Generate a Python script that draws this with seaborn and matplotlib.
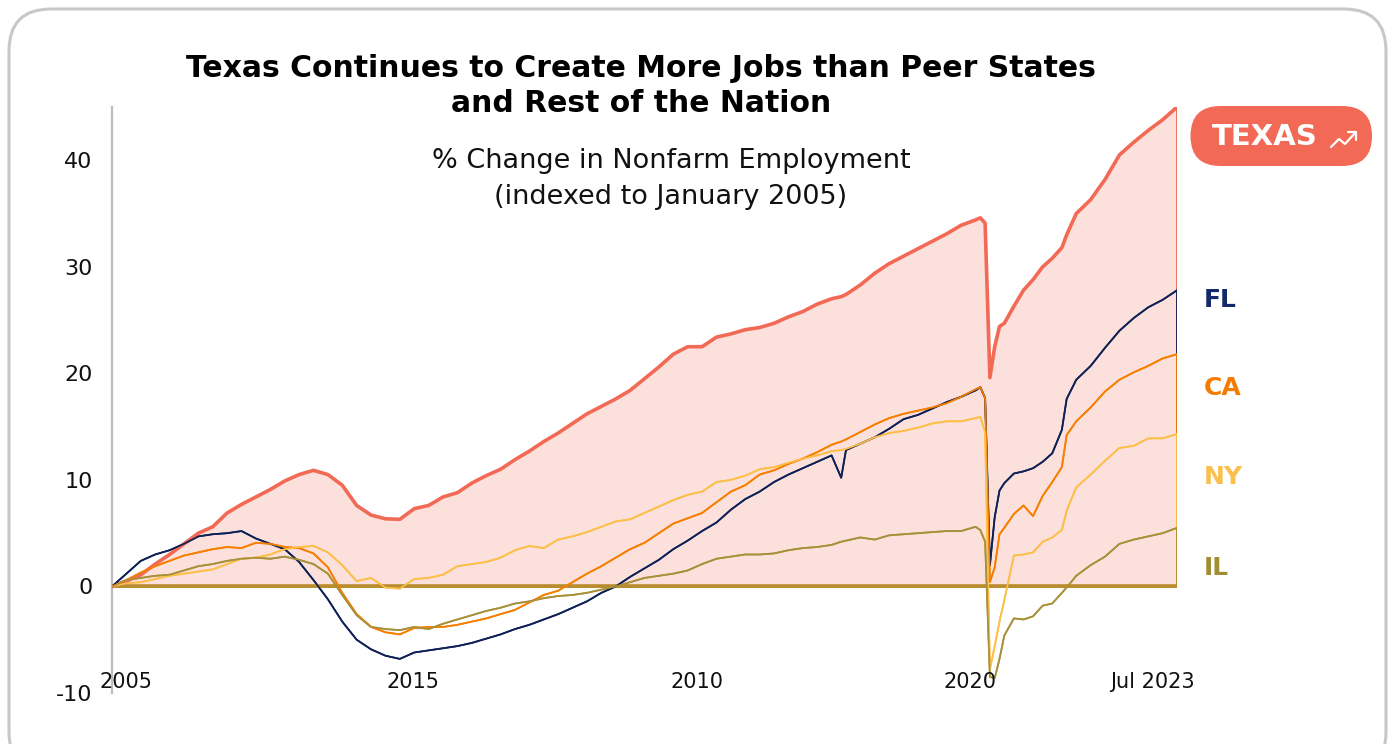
import matplotlib
matplotlib.use("Agg")
import matplotlib.pyplot as plt
from matplotlib.patches import FancyBboxPatch
from matplotlib.lines import Line2D
import seaborn as sns
import pandas as pd
import numpy as np

# ---------------- data ----------------
dates = [
    "2005-01", "2005-04", "2005-07", "2005-10", "2006-01", "2006-04", "2006-07", "2006-10",
    "2007-01", "2007-04", "2007-07", "2007-10", "2008-01", "2008-04", "2008-07", "2008-10",
    "2009-01", "2009-04", "2009-07", "2009-10", "2010-01", "2010-04", "2010-07", "2010-10",
    "2011-01", "2011-04", "2011-07", "2011-10", "2012-01", "2012-04", "2012-07", "2012-10",
    "2013-01", "2013-04", "2013-07", "2013-10", "2014-01", "2014-04", "2014-07", "2014-10",
    "2015-01", "2015-04", "2015-07", "2015-10", "2016-01", "2016-04", "2016-07", "2016-10",
    "2017-01", "2017-04", "2017-07", "2017-09", "2017-10", "2018-01", "2018-04", "2018-07",
    "2018-10", "2019-01", "2019-04", "2019-07", "2019-10", "2020-01", "2020-02", "2020-03",
    "2020-04", "2020-05", "2020-06", "2020-07", "2020-09", "2020-11", "2021-01", "2021-03",
    "2021-05", "2021-07", "2021-08", "2021-10", "2022-01", "2022-04", "2022-07", "2022-10",
    "2023-01", "2023-04", "2023-07",
]

texas = [0, 0.5, 1.1, 2.1, 3.0, 4.0, 5.0, 5.6, 6.9, 7.7, 8.4, 9.1, 9.9, 10.5, 10.9, 10.5,
         9.5, 7.6, 6.7, 6.35, 6.3, 7.3, 7.6, 8.4, 8.8, 9.7, 10.4, 11.0, 11.9, 12.7, 13.6, 14.4,
         15.3, 16.2, 16.9, 17.6, 18.4, 19.5, 20.6, 21.8, 22.5, 22.5, 23.4, 23.7, 24.1, 24.3, 24.7, 25.3,
         25.8, 26.5, 27.0, 27.2, 27.4, 28.3, 29.4, 30.3, 31.0, 31.7, 32.4, 33.1, 33.9, 34.4, 34.6, 34.1,
         19.6, 22.5, 24.4, 24.7, 26.3, 27.8, 28.8, 30.0, 30.8, 31.8, 33.0, 35.0, 36.3, 38.2, 40.5, 41.7,
         42.8, 43.8, 45.0]

florida = [0, 1.2, 2.4, 3.0, 3.4, 4.0, 4.7, 4.9, 5.0, 5.2, 4.5, 4.0, 3.5, 2.3, 0.6, -1.2,
           -3.3, -5.0, -5.9, -6.5, -6.8, -6.2, -6.0, -5.8, -5.6, -5.3, -4.9, -4.5, -4.0, -3.6, -3.1, -2.6,
           -2.0, -1.4, -0.6, 0.0, 0.9, 1.7, 2.5, 3.5, 4.3, 5.2, 6.0, 7.2, 8.2, 8.9, 9.8, 10.5,
           11.1, 11.7, 12.3, 10.2, 12.8, 13.4, 14.0, 14.8, 15.7, 16.1, 16.7, 17.3, 17.8, 18.4, 18.7, 17.7,
           2.0, 6.5, 9.0, 9.7, 10.6, 10.8, 11.1, 11.7, 12.5, 14.7, 17.6, 19.4, 20.7, 22.4, 24.0, 25.2,
           26.2, 26.9, 27.8]

california = [0, 0.6, 1.3, 1.9, 2.4, 2.9, 3.2, 3.5, 3.7, 3.6, 4.1, 4.0, 3.7, 3.6, 3.1, 1.8,
              -0.6, -2.6, -3.8, -4.3, -4.5, -3.9, -3.8, -3.8, -3.6, -3.3, -3.0, -2.6, -2.2, -1.5, -0.8, -0.4,
              0.4, 1.2, 1.9, 2.7, 3.5, 4.1, 5.0, 5.9, 6.4, 6.9, 7.9, 8.9, 9.5, 10.5, 10.9, 11.5,
              12.0, 12.6, 13.3, 13.6, 13.8, 14.5, 15.2, 15.8, 16.2, 16.5, 16.8, 17.2, 17.8, 18.5, 18.7, 17.7,
              0.4, 1.8, 4.9, 5.5, 6.8, 7.6, 6.6, 8.5, 9.8, 11.2, 14.2, 15.5, 16.8, 18.3, 19.4, 20.1,
              20.7, 21.4, 21.8]

new_york = [0, 0.3, 0.4, 0.7, 1.0, 1.2, 1.4, 1.6, 2.1, 2.6, 2.7, 3.0, 3.5, 3.7, 3.8, 3.2,
            2.0, 0.5, 0.8, -0.1, -0.2, 0.7, 0.8, 1.1, 1.9, 2.1, 2.3, 2.7, 3.4, 3.8, 3.6, 4.4,
            4.7, 5.1, 5.6, 6.1, 6.3, 6.9, 7.5, 8.1, 8.6, 8.9, 9.8, 10.0, 10.4, 11.0, 11.2, 11.6,
            12.0, 12.3, 12.7, 12.8, 12.9, 13.4, 14.0, 14.4, 14.6, 14.9, 15.3, 15.5, 15.5, 15.8, 15.9, 14.5,
            -7.8, -5.6, -3.3, -1.3, 2.9, 3.0, 3.2, 4.2, 4.6, 5.3, 7.1, 9.3, 10.5, 11.8, 13.0, 13.2,
            13.9, 13.9, 14.3]

illinois = [0, 0.6, 0.8, 1.0, 1.1, 1.5, 1.9, 2.1, 2.4, 2.6, 2.7, 2.6, 2.8, 2.5, 2.1, 1.2,
            -0.8, -2.7, -3.8, -4.0, -4.1, -3.8, -4.0, -3.5, -3.1, -2.7, -2.3, -2.0, -1.6, -1.4, -1.1, -0.9,
            -0.8, -0.6, -0.3, 0.0, 0.4, 0.8, 1.0, 1.2, 1.5, 2.1, 2.6, 2.8, 3.0, 3.0, 3.1, 3.4,
            3.6, 3.7, 3.9, 4.2, 4.3, 4.6, 4.4, 4.8, 4.9, 5.0, 5.1, 5.2, 5.2, 5.6, 5.3, 4.2,
            -8.5, -8.6, -6.8, -4.6, -3.0, -3.1, -2.8, -1.8, -1.6, -0.6, -0.1, 1.0, 2.0, 2.8, 4.0, 4.4,
            4.7, 5.0, 5.5]

state_names = ["TEXAS", "FL", "CA", "NY", "IL"]
x_tick_labels = ["2005", "2015", "2010", "2020", "Jul 2023"]
y_ticks = [-10, 0, 10, 20, 30, 40]

title_text = "Texas Continues to Create More Jobs than Peer States\nand Rest of the Nation"
subtitle_text = "% Change in Nonfarm Employment\n(indexed to January 2005)"

# ---------------- styling ----------------
colors = {"TEXAS": "#f26a55", "FL": "#0e2157", "CA": "#f77f00", "NY": "#fdbf4a", "IL": "#a8913a"}
label_colors = {"FL": "#13296b", "CA": "#f57c00", "NY": "#fbbf4c", "IL": "#a18e33"}
widths = {"TEXAS": 2.6, "FL": 1.2, "CA": 1.2, "NY": 1.2, "IL": 1.2}
texas_fill = "#fce0dc"
base_color = "#b98d2d"
font = "DejaVu Sans"

series = {"TEXAS": texas, "FL": florida, "CA": california, "NY": new_york, "IL": illinois}
for k, v in series.items():
    assert len(v) == len(dates), (k, len(v))

dt = pd.to_datetime(dates)
months = (dt.year - 2005) * 12 + (dt.month - 1)
df = pd.concat([pd.DataFrame({"month": months, "value": series[s], "state": s}) for s in state_names],
               ignore_index=True)

sns.set_theme(style="white")
plt.rcParams["font.family"] = [font]

W, H = 1390, 744
fig = plt.figure(figsize=(W / 100, H / 100), dpi=100)
fig.patch.set_facecolor("white")

# card border
card = FancyBboxPatch((0.09, -0.3), 13.77, 7.65, boxstyle="round,pad=0,rounding_size=0.42",
                      transform=fig.dpi_scale_trans, facecolor="none", edgecolor="#c8c8c8",
                      linewidth=2.2, zorder=-1)
fig.patches.append(card)

ax = fig.add_axes([112 / W, 1 - 693 / H, (1177 - 112) / W, (693 - 107) / H])
ax.set_facecolor("none")

tx = df[df.state == "TEXAS"]
ax.fill_between(tx["month"], tx["value"], 0, facecolor=texas_fill, edgecolor="none", zorder=1)

# area outlines (vertical end edges + baseline)
for s in state_names:
    d = df[df.state == s]
    ax.fill_between(d["month"], d["value"], 0, facecolor="none", edgecolor=colors[s],
                    linewidth=1.3, zorder=2)

ax.axhline(0, color=base_color, linewidth=2.6, zorder=3)

for s in state_names:
    d = df[df.state == s]
    sns.lineplot(data=d, x="month", y="value", color=colors[s], linewidth=widths[s],
                 ax=ax, zorder=5 if s == "TEXAS" else 6, legend=False)

ax.set_xlim(0, 222)
ax.set_ylim(-10, 45)
ax.set_xlabel("")
ax.set_ylabel("")

ax.set_yticks(y_ticks)
ax.set_yticklabels([str(t) for t in y_ticks], fontsize=16, color="#111111")
ax.tick_params(axis="y", length=0, pad=14)
ax.set_xticks([])

for sp in ["top", "right", "bottom"]:
    ax.spines[sp].set_visible(False)
ax.spines["left"].set_color("#bdbdbd")
ax.spines["left"].set_linewidth(1.6)

# x labels (positions as in reference)
xlab_pos = [3, 62.7, 122, 178.9, 216.8]
for lab, p in zip(x_tick_labels, xlab_pos):
    ax.text(p, 0.019, lab, transform=ax.get_xaxis_transform(), ha="center", va="center",
            fontsize=15, color="#111111", zorder=10)

# titles
fig.text(641 / W, 1 - 86 / H, title_text, ha="center", va="center", fontsize=21.5,
         fontweight="bold", color="black", linespacing=1.3)
fig.text(671 / W, 1 - 179 / H, subtitle_text, ha="center", va="center", fontsize=19.5,
         color="#111111", linespacing=1.45)

# right labels
label_y = {"FL": 300, "CA": 388, "NY": 477, "IL": 568}
for s in ["FL", "CA", "NY", "IL"]:
    fig.text(1204 / W, 1 - label_y[s] / H, s, ha="left", va="center", fontsize=18,
             fontweight="bold", color=label_colors[s])

# TEXAS badge
pill = FancyBboxPatch((11.905, (H - 166) / 100), 1.815, 0.60, boxstyle="round,pad=0,rounding_size=0.30",
                      transform=fig.dpi_scale_trans, facecolor="#f26a55", edgecolor="none", zorder=5)
fig.patches.append(pill)
fig.text(1265 / W, 1 - 137 / H, "TEXAS", ha="center", va="center", fontsize=21,
         fontweight="bold", color="white", zorder=6)
icon = [(1331, 147), (1339, 139), (1345, 144), (1355, 133)]
fig.lines.append(Line2D([p[0] / 100 for p in icon], [(H - p[1]) / 100 for p in icon],
                        transform=fig.dpi_scale_trans, color="white", linewidth=1.6, zorder=7))
head = [(1348, 132), (1356, 132), (1356, 140)]
fig.lines.append(Line2D([p[0] / 100 for p in head], [(H - p[1]) / 100 for p in head],
                        transform=fig.dpi_scale_trans, color="white", linewidth=1.6, zorder=7))

fig.savefig("out.png", dpi=100, facecolor="white")
